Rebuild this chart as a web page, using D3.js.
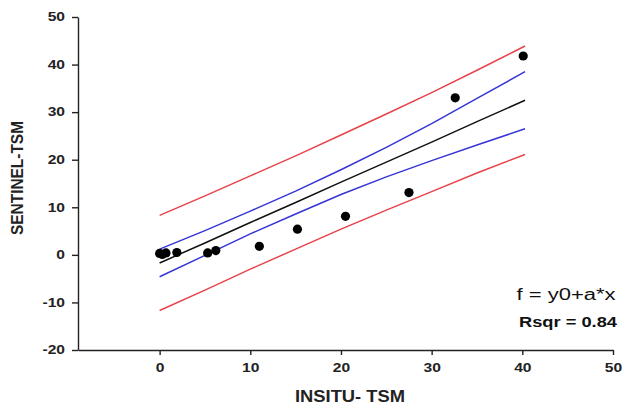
<!DOCTYPE html>
<meta charset="utf-8">
<style>
  body { margin: 0; background: #fff; }
  svg { font-family: "Liberation Sans", Arial, sans-serif; }
  .axis text { font-size: 12px; font-weight: bold; fill: #222; }
  .axis path, .axis line { stroke: #222; stroke-width: 1.4; }
</style>
<svg width="634" height="406"></svg>
<script src="https://cdn.jsdelivr.net/npm/d3@7"></script>
<script>
  // measured points (in situ vs sentinel TSM)
  var insitu   = [0.0, 0.3, 0.7, 1.9, 5.3, 6.2, 11.0, 15.2, 20.5, 27.5, 32.6, 40.1];
  var sentinel = [0.3, 0.1, 0.4, 0.5, 0.4, 0.9, 1.8, 5.4, 8.1, 13.1, 33.0, 41.8];

  // regression line and bands
  var bandX    = [0, 5, 10, 15, 20, 25, 30, 35, 40.3];
  var fitY     = [-1.7, 2.5, 6.8, 11.0, 15.3, 19.5, 23.7, 28.0, 32.5];
  var ciUpper  = [1.2, 5.1, 9.2, 13.4, 17.9, 22.6, 27.6, 32.9, 38.5];
  var ciLower  = [-4.6, -0.1, 4.4, 8.6, 12.7, 16.4, 19.8, 23.1, 26.5];
  var piUpper  = [8.3, 12.4, 16.6, 20.8, 25.2, 29.6, 34.1, 38.8, 43.9];
  var piLower  = [-11.7, -7.4, -3.0, 1.2, 5.4, 9.4, 13.3, 17.2, 21.1];

  var xTicks = [0, 10, 20, 30, 40, 50];
  var yTicks = [-20, -10, 0, 10, 20, 30, 40, 50];

  var svg = d3.select("svg");

  var x = d3.scaleLinear().domain([-9, 50]).range([78, 613]);
  var y = d3.scaleLinear().domain([-20, 50]).range([350, 17]);

  //the original's lettering is drawn wide, so stretch text horizontally
  function stretch(sel, k) {
    sel.each(function() {
      var w = this.getComputedTextLength();
      d3.select(this).attr("textLength", w * k).attr("lengthAdjust", "spacingAndGlyphs");
    });
  }

  var fmt = function(d) { return String(d); };

  //Axes
  var gx = svg.append("g")
      .attr("class", "axis")
      .attr("transform", "translate(0,350)")
      .call(d3.axisBottom(x).tickValues(xTicks).tickFormat(fmt)
            .tickSize(5).tickSizeOuter(0).tickPadding(8));

  var gy = svg.append("g")
      .attr("class", "axis")
      .attr("transform", "translate(78,0)")
      .call(d3.axisLeft(y).tickValues(yTicks).tickFormat(fmt)
            .tickSize(6).tickSizeOuter(0).tickPadding(7));

  stretch(gx.selectAll(".tick text"), 1.3);
  stretch(gy.selectAll(".tick text"), 1.3);

  //Lines
  var line = d3.line()
      .x(function(d) { return x(d[0]); })
      .y(function(d) { return y(d[1]); });

  var series = [
    {vals: piUpper, color: "#e8424a"},
    {vals: piLower, color: "#e8424a"},
    {vals: ciUpper, color: "#3535d6"},
    {vals: ciLower, color: "#3535d6"},
    {vals: fitY,    color: "#111"}
  ];

  svg.append("g").selectAll("path")
    .data(series)
    .enter().append("path")
      .attr("d", function(s) { return line(bandX.map(function(v, i) { return [v, s.vals[i]]; })); })
      .attr("fill", "none")
      .attr("stroke", function(s) { return s.color; })
      .attr("stroke-width", 1.5);

  //Points
  svg.append("g").selectAll("circle")
    .data(insitu)
    .enter().append("circle")
      .attr("cx", function(d) { return x(d); })
      .attr("cy", function(d, i) { return y(sentinel[i]); })
      .attr("r", 4.6)
      .attr("fill", "#000");

  //Axis titles
  svg.append("text")
      .attr("x", 350)
      .attr("y", 402)
      .attr("text-anchor", "middle")
      .attr("textLength", 110)
      .attr("lengthAdjust", "spacingAndGlyphs")
      .style("font", "bold 16.5px 'Liberation Sans', Arial")
      .attr("fill", "#222")
      .text("INSITU- TSM");

  svg.append("text")
      .attr("transform", "translate(23,178) rotate(-90)")
      .attr("text-anchor", "middle")
      .attr("textLength", 114)
      .attr("lengthAdjust", "spacingAndGlyphs")
      .style("font", "bold 16px 'Liberation Sans', Arial")
      .attr("fill", "#222")
      .text("SENTINEL-TSM");

  //Equation labels
  svg.append("text")
      .attr("x", 566)
      .attr("y", 300)
      .attr("text-anchor", "middle")
      .attr("textLength", 99)
      .attr("lengthAdjust", "spacingAndGlyphs")
      .style("font", "16px 'Liberation Sans', Arial")
      .attr("fill", "#111")
      .text("f = y0+a*x");

  svg.append("text")
      .attr("x", 568)
      .attr("y", 327)
      .attr("text-anchor", "middle")
      .attr("textLength", 98)
      .attr("lengthAdjust", "spacingAndGlyphs")
      .style("font", "bold 15px 'Liberation Sans', Arial")
      .attr("fill", "#111")
      .text("Rsqr = 0.84");
</script>
